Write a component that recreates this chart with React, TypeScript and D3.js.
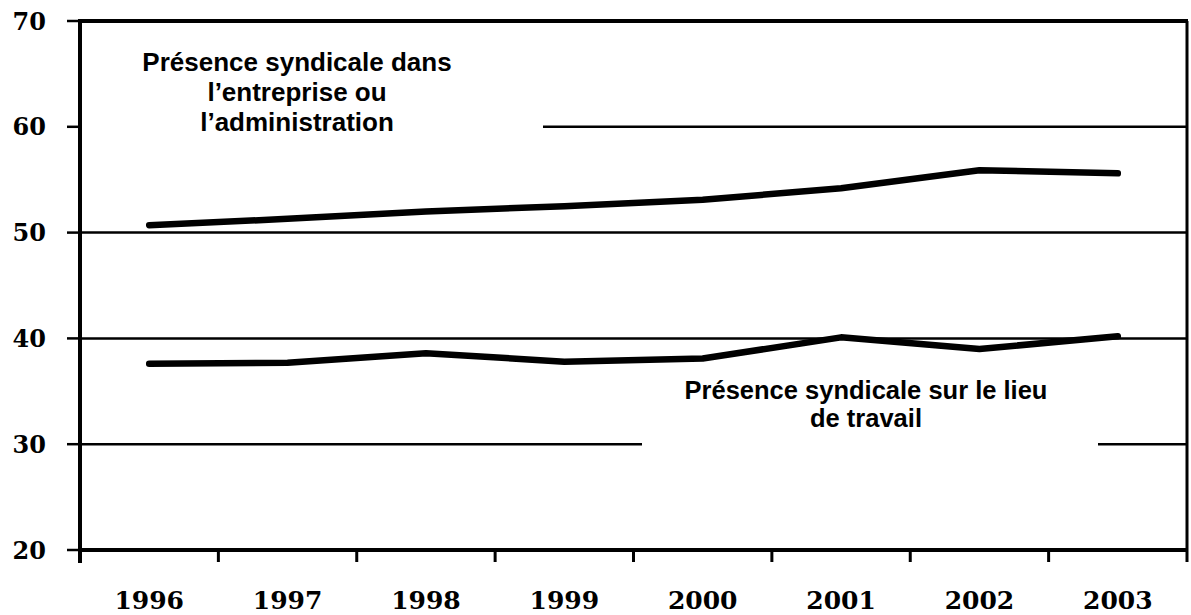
import React, { useEffect, useRef } from 'react';
import * as d3 from 'd3';

const years = ['1996', '1997', '1998', '1999', '2000', '2001', '2002', '2003'];
const entreprise = [50.7, 51.3, 52.0, 52.5, 53.1, 54.2, 55.9, 55.6];
const lieuTravail = [37.6, 37.7, 38.6, 37.8, 38.1, 40.1, 39.0, 40.2];
const yTicks = [20, 30, 40, 50, 60, 70];

const W = 1191;
const H = 615;

const App = () => {
  const svgRef = useRef<SVGSVGElement | null>(null);

  useEffect(() => {
    if (!svgRef.current) return;
    const svg = d3.select(svgRef.current);
    svg.selectAll('*').remove();

    const left = 80;
    const right = 1187;
    const top = 21;
    const bottom = 550;

    const x = d3.scaleBand().domain(years).range([left, right]).padding(0);
    const y = d3.scaleLinear().domain([20, 70]).range([bottom, top]);
    const cx = (d: string) => (x(d) as number) + x.bandwidth() / 2;

    svg.append('rect').attr('width', W).attr('height', H).attr('fill', '#fff');

    // gridlines (partly hidden behind the text boxes)
    const grid = svg.append('g').attr('stroke', '#000').attr('stroke-width', 2.5);
    grid.append('line').attr('x1', 543).attr('x2', right).attr('y1', y(60)).attr('y2', y(60));
    [50, 40].forEach(v => {
      grid.append('line').attr('x1', left).attr('x2', right).attr('y1', y(v)).attr('y2', y(v));
    });
    grid.append('line').attr('x1', left).attr('x2', 642).attr('y1', y(30)).attr('y2', y(30));
    grid.append('line').attr('x1', 1098).attr('x2', right).attr('y1', y(30)).attr('y2', y(30));

    // frame
    const frame = svg.append('g').attr('stroke', '#000');
    frame.append('line').attr('x1', left - 2).attr('x2', right + 1).attr('y1', y(70)).attr('y2', y(70)).attr('stroke-width', 4);
    frame.append('line').attr('x1', right).attr('x2', right).attr('y1', y(70)).attr('y2', bottom + 12).attr('stroke-width', 3);
    frame.append('line').attr('x1', left).attr('x2', left).attr('y1', y(70) - 2).attr('y2', bottom + 13).attr('stroke-width', 4);
    frame.append('line').attr('x1', left).attr('x2', right).attr('y1', bottom).attr('y2', bottom).attr('stroke-width', 4);

    // y ticks and labels
    yTicks.forEach(t => {
      frame.append('line').attr('x1', left - 13).attr('x2', left).attr('y1', y(t)).attr('y2', y(t)).attr('stroke-width', 2.5);
      svg.append('text')
        .attr('x', 46)
        .attr('y', y(t))
        .attr('dy', '0.36em')
        .attr('text-anchor', 'end')
        .attr('font-family', '"DejaVu Serif", serif')
        .attr('font-weight', 'bold')
        .attr('font-size', 24)
        .text(t);
    });

    // x ticks between categories
    years.slice(1).forEach(yr => {
      const xp = x(yr) as number;
      frame.append('line').attr('x1', xp).attr('x2', xp).attr('y1', bottom).attr('y2', bottom + 12).attr('stroke-width', 3);
    });
    years.forEach(yr => {
      svg.append('text')
        .attr('x', cx(yr))
        .attr('y', 609)
        .attr('text-anchor', 'middle')
        .attr('font-family', '"DejaVu Serif", serif')
        .attr('font-weight', 'bold')
        .attr('font-size', 25)
        .text(yr);
    });

    // data lines
    const line = d3.line<number>()
      .x((_, i) => cx(years[i]))
      .y(d => y(d));

    [entreprise, lieuTravail].forEach(series => {
      svg.append('path')
        .datum(series)
        .attr('fill', 'none')
        .attr('stroke', '#000')
        .attr('stroke-width', 6.5)
        .attr('stroke-linecap', 'round')
        .attr('stroke-linejoin', 'round')
        .attr('d', line);
    });

    // annotations
    const label = (lines: string[], xc: number, y0: number, lh: number, size: number) => {
      const t = svg.append('text')
        .attr('text-anchor', 'middle')
        .attr('font-family', '"Liberation Sans", Arial, sans-serif')
        .attr('font-weight', 'bold')
        .attr('font-size', size);
      lines.forEach((s, i) => {
        t.append('tspan').attr('x', xc).attr('y', y0 + i * lh).text(s);
      });
    };
    label(['Présence syndicale dans', 'l\u2019entreprise ou', 'l\u2019administration'], 297, 71, 30, 26);
    label(['Présence syndicale sur le lieu', 'de travail'], 866, 399, 28, 25.5);
  }, []);

  return (
    <div style={{ position: 'fixed', left: 0, top: 0, width: W, height: H, background: '#fff' }}>
      <svg ref={svgRef} width={W} height={H} viewBox={`0 0 ${W} ${H}`} />
    </div>
  );
};

export default App;
